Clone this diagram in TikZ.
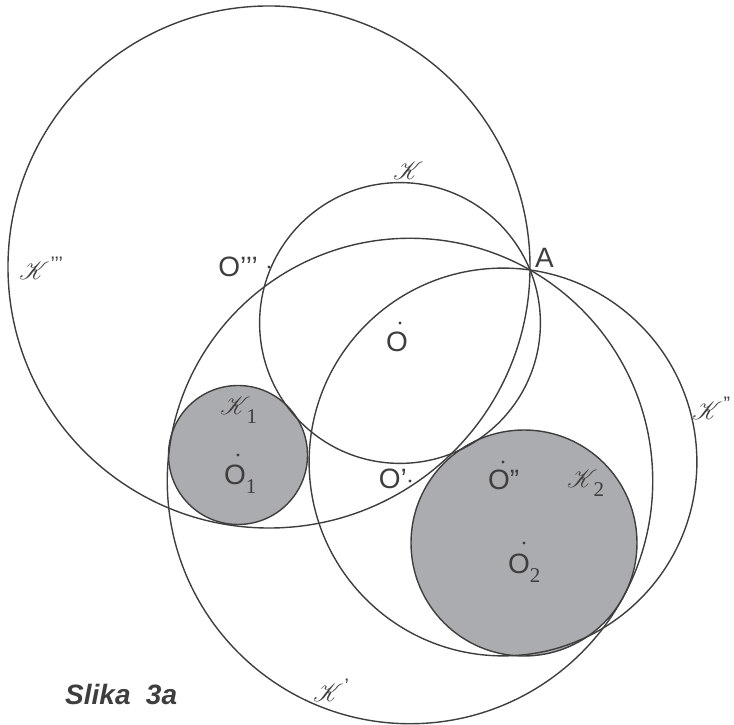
\documentclass[tikz,border=0pt]{standalone}
\usepackage{fontspec}
\usepackage{mathrsfs}
\setmainfont{Liberation Sans}
\newfontfamily\serifdigit{Liberation Serif}
\usetikzlibrary{calc}
\definecolor{slikaLine}{RGB}{62,62,62}
\definecolor{slikaFill}{RGB}{171,172,175}
\newcommand{\idx}[1]{\raisebox{-0.3em}{\fontsize{21}{21}\selectfont\serifdigit #1}}
\newcommand{\scK}{{\fontsize{31}{31}\selectfont\(\mathscr{K}\)}}

\begin{document}
\begin{tikzpicture}[x=1pt, y=1pt,
    circ/.style={draw=slikaLine, line width=1.4pt},
    disk/.style={circ, fill=slikaFill},
    lbl/.style={anchor=base west, inner sep=0pt, text=slikaLine,
                font=\fontsize{28}{30}\selectfont}
  ]
  \useasboundingbox (0,0) rectangle (734,725);

  % common point and centres
  \coordinate (A)    at (530,455);
  \coordinate (O)    at (400,402);
  \coordinate (Op)   at (410,244);
  \coordinate (Opp)  at (503,263);
  \coordinate (Oppp) at (269,458);
  \coordinate (O1)   at (238,270);
  \coordinate (O2)   at (524,182);

  % given circles
  \draw[disk] (O1) circle (69.5);
  \draw[disk] (O2) circle (113);

  % circles through A
  \foreach \c in {O,Op,Opp,Oppp}
    \draw[circ] let \p1=($(A)-(\c)$) in (\c) circle ({veclen(\x1,\y1)});

  % centres
  \foreach \c in {O,Op,Opp,Oppp,O1,O2}
    \fill[slikaLine] (\c) circle (1.7);

  % point labels
  \node[lbl] (labA)    at ($(A)+(5,2)$)      {A};
  \node[lbl] (labO)    at ($(O)+(-14,-29)$)  {O};
  \node[lbl] (labO1)   at ($(O1)+(-14,-30)$) {O\idx{1}};
  \node[lbl] (labO2)   at ($(O2)+(-16,-31)$) {O\idx{2}};
  \node[lbl] (labOpp)  at ($(Opp)+(-15,-28)$) {O”};
  \node[lbl, anchor=base east] (labOp)   at ($(Op)+(-3,-8)$)    {O’};
  \node[lbl, anchor=base east] (labOppp) at ($(Oppp)+(-11,-10)$) {O’’’};

  % circle labels
  \node[lbl] (labK)    at (393,545) {\scK};
  \node[lbl] (labKppp) at (19,445)  {\scK\kern1pt\textsuperscript{’’’}};
  \node[lbl] (labKpp)  at (692,305) {\scK\kern1pt\textsuperscript{”}};
  \node[lbl] (labKp)   at (313,23)  {\scK\kern1pt\textsuperscript{’}};
  \node[lbl] (labK1)   at (220,310) {\scK\kern-4pt\idx{1}};
  \node[lbl] (labK2)   at (567,237) {\scK\kern-4pt\idx{2}};

  % caption
  \node[lbl, font=\fontsize{28}{30}\selectfont\bfseries\itshape] (cap) at (65,20) {Slika\hspace{0.55em}3a};
\end{tikzpicture}
\end{document}
